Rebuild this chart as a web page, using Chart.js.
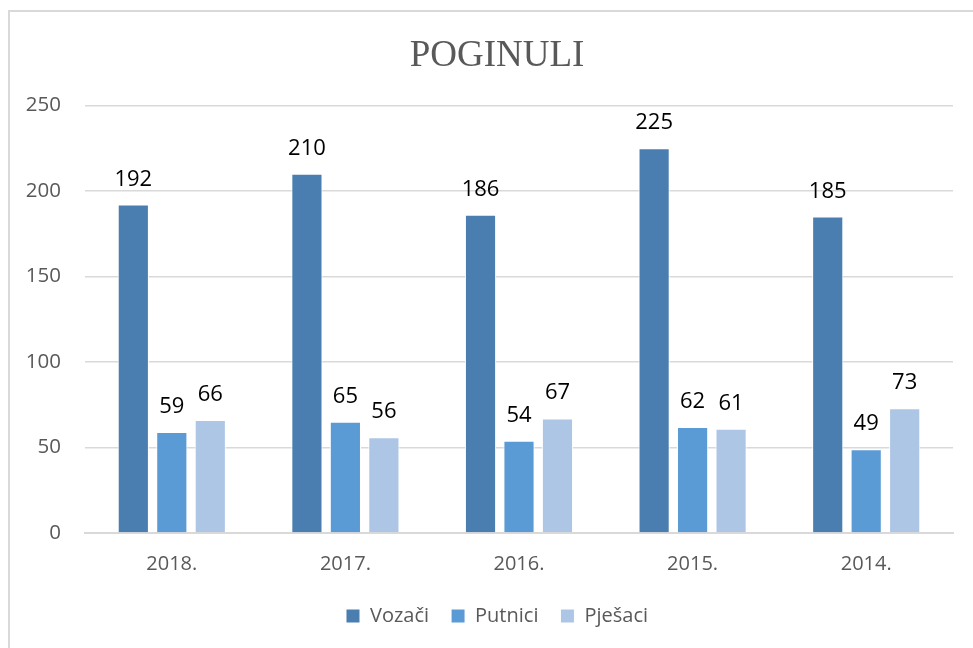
<!DOCTYPE html>
<html>
<head>
<meta charset="utf-8">
<script src="https://cdn.jsdelivr.net/npm/chart.js@4/dist/chart.umd.min.js"></script>
<style>
  body { margin: 0; background: #fff; overflow: hidden; }
  #frame { position: absolute; left: 8px; top: 10px; width: 1000px; height: 700px; border: 2px solid #d9d9d9; }
  #wrap { position: absolute; left: 0; top: 0; width: 974px; height: 648px; }
</style>
</head>
<body>
<div id="frame"></div>
<div id="wrap"><canvas id="chartCanvas"></canvas></div>
<script>
// Podaci
const years = ['2018.', '2017.', '2016.', '2015.', '2014.'];
const vozaci = [192, 210, 186, 225, 185];
const putnici = [59, 65, 54, 62, 49];
const pjesaci = [66, 56, 67, 61, 73];
const yTicks = [0, 50, 100, 150, 200, 250];

const fontFamily = '"Open Sans", "Noto Sans", sans-serif';

// Vrijednosti iznad stupaca
const valueLabels = {
    id: 'valueLabels',
    afterDatasetsDraw(chart) {
        const ctx = chart.ctx;
        ctx.save();
        ctx.fillStyle = '#000';
        ctx.font = '22px ' + fontFamily;
        ctx.textAlign = 'center';
        ctx.textBaseline = 'alphabetic';
        chart.data.datasets.forEach((ds, i) => {
            chart.getDatasetMeta(i).data.forEach((bar, j) => {
                ctx.fillText(ds.data[j], bar.x, bar.y - 19);
            });
        });
        ctx.restore();
    }
};

new Chart(document.getElementById('chartCanvas').getContext('2d'), {
    type: 'bar',
    data: {
        labels: years,
        datasets: [
            { label: 'Vozači', data: vozaci, backgroundColor: '#4a7eb1', borderColor: '#ffffff', borderWidth: 1 },
            { label: 'Putnici', data: putnici, backgroundColor: '#5b9bd5', borderColor: '#ffffff', borderWidth: 1 },
            { label: 'Pješaci', data: pjesaci, backgroundColor: '#adc6e5', borderColor: '#ffffff', borderWidth: 1 }
        ]
    },
    options: {
        responsive: true,
        maintainAspectRatio: false,
        animation: false,
        categoryPercentage: 0.665,
        barPercentage: 0.81,
        layout: { padding: { left: 20, right: 0, top: 0, bottom: 12 } },
        plugins: {
            title: {
                display: true,
                text: 'POGINULI',
                color: '#595959',
                font: { family: '"Liberation Serif", "Times New Roman", serif', size: 37, weight: 'normal' },
                padding: { top: 34, bottom: 27 }
            },
            legend: {
                position: 'bottom',
                labels: {
                    color: '#595959',
                    font: { family: fontFamily, size: 20 },
                    boxWidth: 14,
                    boxHeight: 14,
                    padding: 22
                }
            },
            tooltip: { enabled: false }
        },
        scales: {
            x: {
                afterFit: (scale) => { scale.height = 51; },
                grid: { display: false, drawTicks: false },
                border: { color: '#d9d9d9', width: 2 },
                ticks: { color: '#595959', font: { family: fontFamily, size: 20 }, padding: 19 }
            },
            y: {
                min: 0,
                max: 250,
                afterFit: (scale) => { scale.width = 65; },
                afterBuildTicks: (scale) => { scale.ticks = yTicks.map(v => ({ value: v })); },
                grid: { color: '#d9d9d9', lineWidth: 1.5, drawTicks: false },
                border: { display: false },
                ticks: { color: '#595959', font: { family: fontFamily, size: 20.5 }, padding: 24 }
            },
            // prazna desna os, samo da naslov i legenda budu centrirani kao u originalu
            yRight: {
                position: 'right',
                afterFit: (scale) => { scale.width = 21; },
                grid: { display: false, drawTicks: false },
                border: { display: false },
                ticks: { display: false }
            }
        }
    },
    plugins: [valueLabels]
});
</script>
</body>
</html>
